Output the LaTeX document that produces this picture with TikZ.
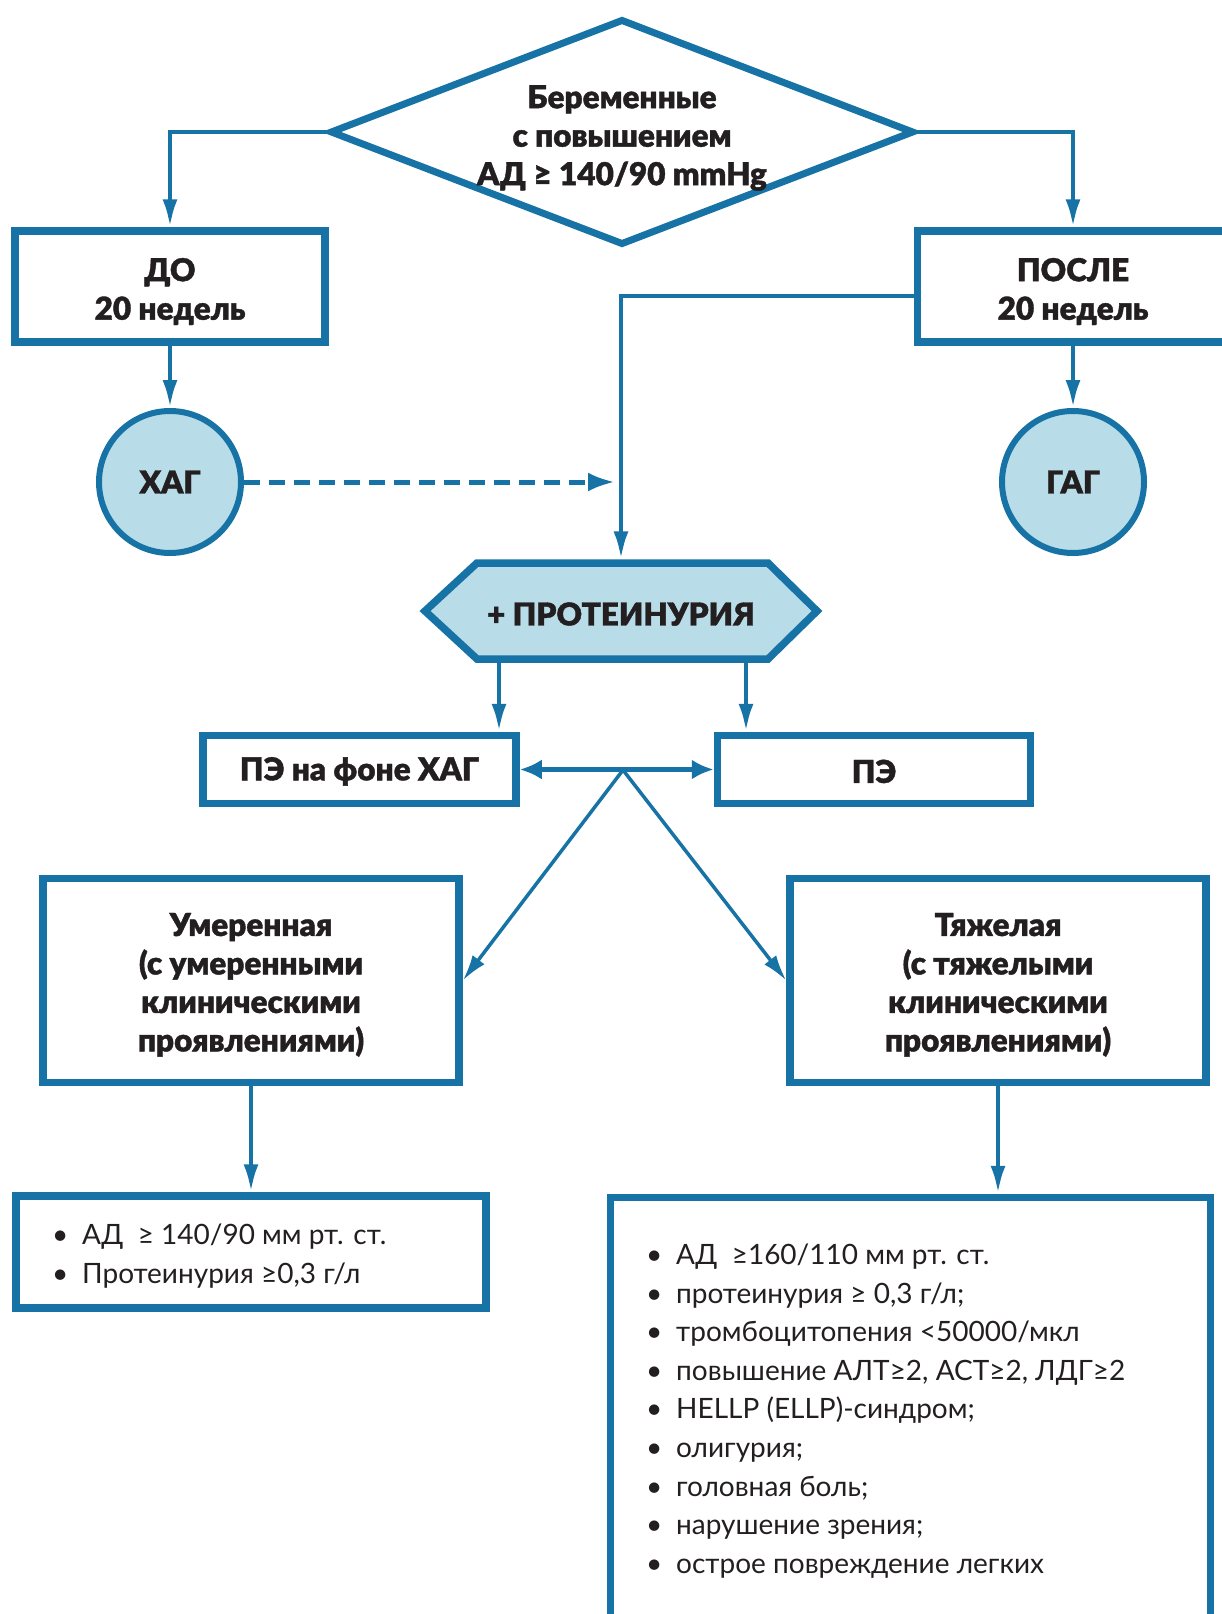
\documentclass[tikz,border=0pt]{standalone}
\usepackage{fontspec}
\setmainfont{Lato}[BoldFont={* Black},BoldFeatures={FakeBold=1.2}]
\usetikzlibrary{arrows.meta,shapes.geometric}
\definecolor{cblue}{HTML}{1773A6}
\definecolor{cfill}{HTML}{B8DDE8}
\definecolor{ctext}{HTML}{231F20}
\begin{document}
\begin{tikzpicture}[x=1pt,y=-1pt,
  hfont/.style={font=\bfseries\fontsize{31.5}{38.5}\selectfont,text=ctext},
  box/.style={draw=cblue,line width=7.5pt,fill=white,rectangle,inner sep=0pt,align=center,hfont},
  btext/.style={hfont,align=center,inner sep=0pt},
  circ/.style={draw=cblue,line width=6pt,fill=cfill,circle,minimum size=142pt,inner sep=0pt,hfont},
  arr/.style={draw=cblue,line width=4.5pt,-{Latex[length=28pt,width=15pt]}},
  arrthin/.style={draw=cblue,line width=3.5pt,-{Latex[length=26pt,width=15pt]}},
  dasharr/.style={draw=cblue,line width=5pt,dash pattern=on 16pt off 9pt,-{Latex[length=27pt,width=19pt]}},
  dblarr/.style={draw=cblue,line width=5pt,{Latex[length=22pt,width=20pt]}-{Latex[length=22pt,width=20pt]}},
  listtext/.style={font=\fontsize{28}{38.6}\selectfont,text=ctext,align=left,inner sep=0pt}]
\useasboundingbox (0,0) rectangle (1221,1614);
\fill[white] (0,0) rectangle (1221,1614);

% diamond
\node[shape=diamond,draw=cblue,line width=7pt,fill=white,minimum width=584pt,minimum height=226pt,inner sep=0pt] (dia) at (622,132) {};
\node[btext] (diatext) at (622,138) {Беременные\\с повышением\\АД ≥ 140/90 mmHg};

% boxes
\node[box,minimum width=310pt,minimum height=111pt] (do) at (170,286.5) {};
\node[btext] (dotext) at (170,291.5) {ДО\\20 недель};
\node[box,minimum width=311pt,minimum height=111pt] (posle) at (1073,286.5) {};
\node[btext] (posletext) at (1073,291.5) {ПОСЛЕ\\20 недель};

\node[circ] (xag) at (170,482) {ХАГ};
\node[circ] (gag) at (1073,482) {ГАГ};

% hexagon
\node[rectangle,minimum width=400pt,minimum height=103pt,inner sep=0pt] (prot) at (621,611) {};
\draw[cblue,line width=7.5pt,fill=cfill,line join=miter]
  (425,611) -- (477,563) -- (768,563) -- (817,611) -- (768,659) -- (477,659) -- cycle;
\node[hfont,inner sep=0pt] (prottext) at (621,614) {+ ПРОТЕИНУРИЯ};

\node[box,minimum width=313pt,minimum height=68pt] (pefon) at (359.5,769.5) {\rule{0pt}{27pt}ПЭ на фоне ХАГ};
\node[box,minimum width=313pt,minimum height=68pt] (pe) at (874,769.5) {\rule{0pt}{27pt}ПЭ};

\node[box,minimum width=416pt,minimum height=204pt] (umer) at (251,980.5) {};
\node[btext] (umertext) at (251,984.8) {Умеренная\\(с умеренными\\клиническими\\проявлениями)};
\node[box,minimum width=416pt,minimum height=204pt] (tyazh) at (998,980.5) {};
\node[btext] (tyazhtext) at (998,984.8) {Тяжелая\\(с тяжелыми\\клиническими\\проявлениями)};

\node[box,minimum width=470pt,minimum height=112pt] (list1) at (251,1252) {};
\node[box,minimum width=600pt,minimum height=450pt] (list2) at (910.5,1422.5) {};

\node[listtext,anchor=west] (l1text) at (52,1256) {%
\makebox[30pt][l]{•}АД\ \ ≥ 140/90 мм рт. ст.\\
\makebox[30pt][l]{•}Протеинурия ≥0,3 г/л};

\node[listtext,anchor=west] (l2text) at (646,1411) {%
\makebox[30pt][l]{•}АД\ \ ≥160/110 мм рт. ст.\\
\makebox[30pt][l]{•}протеинурия ≥ 0,3 г/л;\\
\makebox[30pt][l]{•}тромбоцитопения <50000/мкл\\
\makebox[30pt][l]{•}повышение АЛТ≥2, АСТ≥2, ЛДГ≥2\\
\makebox[30pt][l]{•}HELLP (ELLP)-синдром;\\
\makebox[30pt][l]{•}олигурия;\\
\makebox[30pt][l]{•}головная боль;\\
\makebox[30pt][l]{•}нарушение зрения;\\
\makebox[30pt][l]{•}острое повреждение легких};

% connectors
\coordinate (dashend) at (615,482);
\coordinate (hub) at (623,770);
\draw[arr] (dia.west) -| (do.north);
\draw[arr] (dia.east) -| (posle.north);
\draw[arr] (do.south) -- (xag.north);
\draw[arr] (posle.south) -- (gag.north);
\draw[arr] (posle.west |- 0,296) -| (prot.north);
\draw[dasharr] (xag.east) -- (dashend);
\draw[arr] (prot.south -| 499,0) -- (pefon.north -| 499,0);
\draw[arr] (prot.south -| 746,0) -- (pe.north -| 746,0);
\draw[dblarr] (pefon.east) -- (pe.west);
\draw[arrthin] (hub) -- (umer.east);
\draw[arrthin] (hub) -- (tyazh.west);
\draw[arr] (umer.south) -- (list1.north);
\draw[arr] (tyazh.south) -- (tyazh.south |- list2.north);
\end{tikzpicture}
\end{document}
